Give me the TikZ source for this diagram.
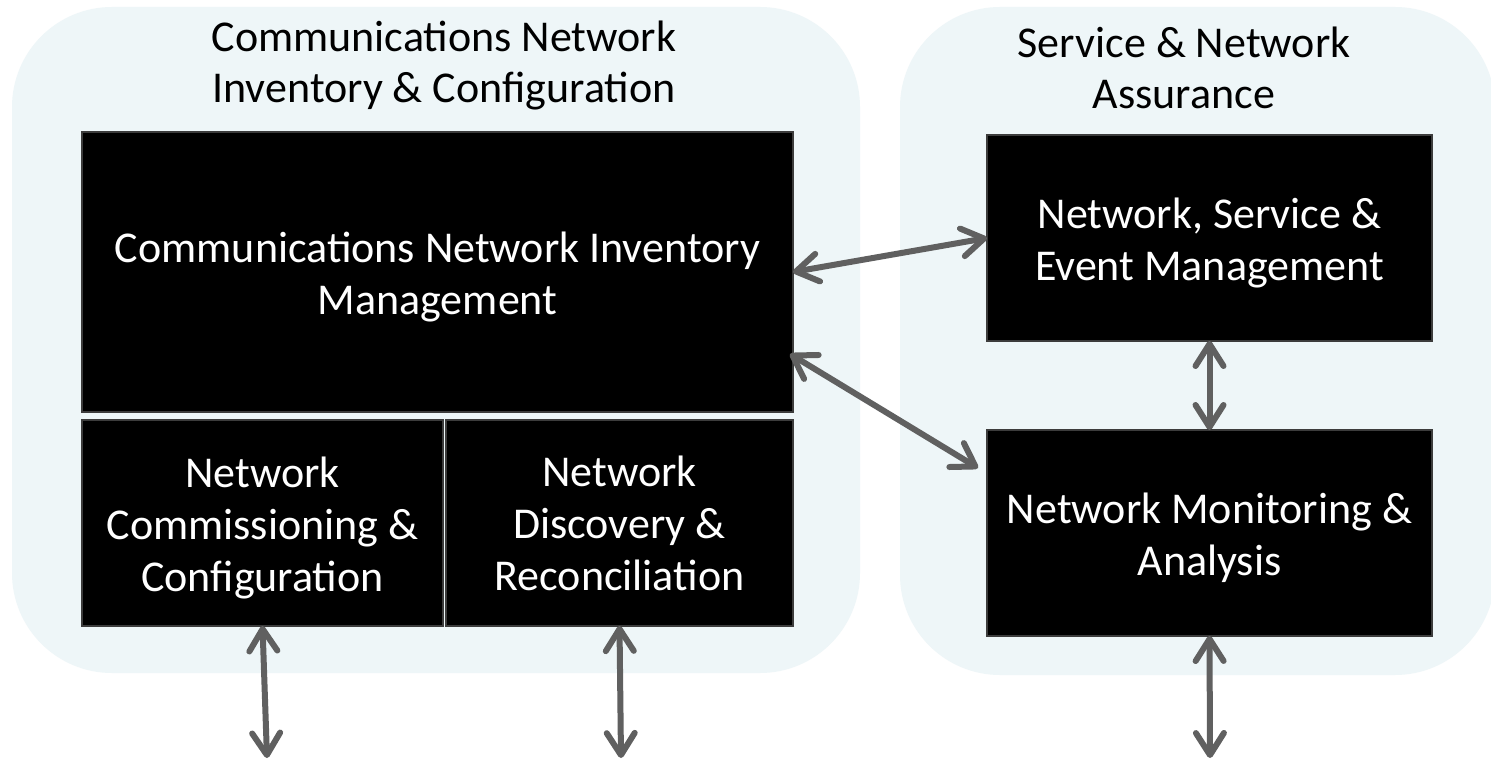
\documentclass[tikz,border=0pt]{standalone}
\usepackage{fontspec}
\setmainfont{Carlito}
\usetikzlibrary{arrows.meta,calc}
\definecolor{bgblue}{RGB}{238,246,248}
\definecolor{arrowgray}{RGB}{96,96,96}
\definecolor{edgegray}{RGB}{60,60,60}
\newcommand{\toppad}{\rule{0pt}{20pt}}
\begin{document}
\begin{tikzpicture}[x=0.5pt,y=-0.5pt,
  panel/.style={fill=bgblue, rounded corners=50pt},
  blackbox/.style={fill=black, draw=edgegray, line width=0.8pt, inner sep=0pt, outer sep=0pt,
    text=white, align=center, font=\fontsize{22}{26}\selectfont},
  paneltitle/.style={align=center, font=\fontsize{22}{25.5}\selectfont, text=black},
  conn/.style={draw=arrowgray, line width=3pt, line cap=round, line join=round,
    {Straight Barb[length=11pt,width=14pt,round]}-{Straight Barb[length=11pt,width=14pt,round]}}]
\useasboundingbox (0,0) rectangle (1491,764);
\fill[white] (0,0) rectangle (1491,764);
% panels
\path[panel] (12,7) rectangle (860,673);
\begin{scope}
\clip (0,0) rectangle (1491,764);
\path[panel] (900,7) rectangle (1495,675);
\end{scope}
% titles
\node[paneltitle] (t1) at (444,66) {Communications Network\\Inventory \& Configuration};
\node[paneltitle] (t2) at (1184,68) {Service \& Network\\Assurance};
% boxes
\node[blackbox, minimum width=355.5pt, minimum height=140pt] (cnim) at (437.5,272)
  {\toppad Communications Network Inventory\\Management};
\node[blackbox, minimum width=180.5pt, minimum height=103pt] (comm) at (262.5,523)
  {\toppad Network\\Commissioning \&\\Configuration};
\node[blackbox, minimum width=173.5pt, minimum height=103pt] (disc) at (619.5,523)
  {Network\\Discovery \&\\Reconciliation};
\node[blackbox, minimum width=222.5pt, minimum height=103pt] (nsem) at (1209.5,238)
  {\toppad Network, Service \&\\Event Management};
\node[blackbox, minimum width=222.5pt, minimum height=103pt] (nma) at (1209.5,533)
  {\toppad Network Monitoring \&\\Analysis};
% free ends
\coordinate (o1) at (267,758);
\coordinate (o2) at (621,758);
\coordinate (o3) at (1210,758);
% connectors
\draw[conn] (cnim.east) -- (nsem.west);
\draw[conn] ($(cnim.east)+(-3,82)$) -- ($(nma.west)+(-9,-65)$);
\draw[conn] (nsem.south) -- (nma.north);
\draw[conn] (comm.south) -- (o1);
\draw[conn] (disc.south) -- (o2);
\draw[conn] (nma.south) -- (o3);
\end{tikzpicture}
\end{document}
